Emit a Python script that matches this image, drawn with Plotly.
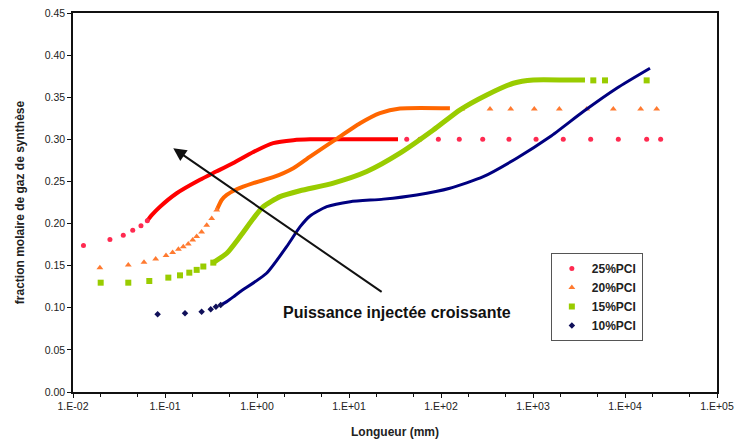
import numpy as np
import plotly.graph_objects as go

# ---- data: mole fraction of syngas vs length (mm), four injected powers ----
# each series: sparse start markers, dense central curve, sparse end markers

# 25 %PCI
p25_start_x = [0.013, 0.0252, 0.0352, 0.0446, 0.0548, 0.0642]
p25_start_y = [0.174, 0.181, 0.186, 0.192, 0.1975, 0.2034]
p25_curve_x = [0.0642, 0.0717, 0.0883, 0.134, 0.240, 0.365, 0.553, 0.912, 1.50, 2.48, 3.77, 10.0, 34.1]
p25_curve_y = [0.2034, 0.210, 0.220, 0.236, 0.252, 0.262, 0.272, 0.285, 0.2955, 0.299, 0.300, 0.300, 0.300]
p25_end_x = [42.4, 59.1, 93.6, 158, 284, 548, 1079, 2133, 4236, 8459, 17200, 24400]
p25_end_y = [0.30] * 12

# 20 %PCI
p20_start_x = [0.0196, 0.0399, 0.0591, 0.0792, 0.1026, 0.121, 0.140, 0.158, 0.179, 0.200,
               0.221, 0.250, 0.284, 0.322, 0.365]
p20_start_y = [0.1476, 0.1508, 0.154, 0.158, 0.162, 0.1655, 0.1694, 0.1726, 0.1758, 0.1805,
               0.1845, 0.190, 0.198, 0.206, 0.216]
p20_curve_x = [0.365, 0.413, 0.469, 0.601, 0.912, 1.50, 2.48, 3.77, 7.05, 13.2, 21.7, 35.8, 125]
p20_curve_y = [0.216, 0.228, 0.234, 0.2407, 0.248, 0.255, 0.2657, 0.2795, 0.2993, 0.319, 0.331, 0.3367, 0.337]
p20_end_x = [168, 341, 572, 1033, 1932, 3836, 7464, 14800, 22100]
p20_end_y = [0.336] * 9

# 15 %PCI
p15_start_x = [0.0200, 0.0399, 0.0675, 0.1087, 0.1456, 0.1837, 0.221, 0.261, 0.335]
p15_start_y = [0.1298, 0.1298, 0.1318, 0.1358, 0.1385, 0.1417, 0.145, 0.149, 0.1536]
p15_curve_x = [0.335, 0.469, 0.654, 0.912, 1.17, 1.78, 2.93, 6.76, 15.6, 35.8, 82.5, 161, 314,
               611, 1007, 2323, 3673]
p15_curve_y = [0.1536, 0.1647, 0.1845, 0.206, 0.220, 0.232, 0.239, 0.248, 0.2617, 0.2835, 0.311,
               0.335, 0.3527, 0.3666, 0.3705, 0.3705, 0.3705]
p15_end_x = [4523, 6064, 17200]
p15_end_y = [0.370] * 3

# 10 %PCI
p10_start_x = [0.0832, 0.165, 0.25, 0.314, 0.358, 0.403]
p10_start_y = [0.0923, 0.0934, 0.0954, 0.0982, 0.1013, 0.1033]
p10_curve_x = [0.403, 0.469, 0.554, 0.654, 1.27, 2.10, 2.93, 3.77, 5.73, 10.3, 23.6, 54.4, 125,
               288, 665, 1531, 3524, 8128, 18700]
p10_curve_y = [0.1033, 0.1073, 0.113, 0.119, 0.141, 0.1726, 0.196, 0.209, 0.220, 0.226, 0.229,
               0.234, 0.242, 0.2557, 0.2776, 0.303, 0.333, 0.3607, 0.3844]
p10_end_x = []
p10_end_y = []

x_tickvals = [1e-2, 1e-1, 1e0, 1e1, 1e2, 1e3, 1e4, 1e5]
x_ticktext = ["1.E-02", "1.E-01", "1.E+00", "1.E+01", "1.E+02", "1.E+03", "1.E+04", "1.E+05"]

series = [
    dict(name="25%PCI", sx=p25_start_x, sy=p25_start_y, cx=p25_curve_x, cy=p25_curve_y,
         ex=p25_end_x, ey=p25_end_y, line="#FF0000", mark="#FF2A50", symbol="circle",
         msize=5, width=4),
    dict(name="20%PCI", sx=p20_start_x, sy=p20_start_y, cx=p20_curve_x, cy=p20_curve_y,
         ex=p20_end_x, ey=p20_end_y, line="#FF6600", mark="#FF7A30", symbol="triangle-up",
         msize=6, width=4),
    dict(name="15%PCI", sx=p15_start_x, sy=p15_start_y, cx=p15_curve_x, cy=p15_curve_y,
         ex=p15_end_x, ey=p15_end_y, line="#99CC00", mark="#99CC00", symbol="square",
         msize=6, width=5),
    dict(name="10%PCI", sx=p10_start_x, sy=p10_start_y, cx=p10_curve_x, cy=p10_curve_y,
         ex=p10_end_x, ey=p10_end_y, line="#000080", mark="#10105A", symbol="diamond",
         msize=5, width=3),
]

fig = go.Figure()
for s in series:
    fig.add_trace(go.Scatter(
        x=s["cx"], y=s["cy"], mode="lines", showlegend=False, hoverinfo="skip",
        line=dict(color=s["line"], width=s["width"], shape="spline", smoothing=0.6),
    ))
    fig.add_trace(go.Scatter(
        x=s["sx"] + s["ex"], y=s["sy"] + s["ey"], mode="markers", name=s["name"],
        marker=dict(color=s["mark"], symbol=s["symbol"], size=s["msize"]),
    ))

# arrow: increasing injected power
fig.add_annotation(
    x=np.log10(0.123), y=0.2894, ax=np.log10(23.5), ay=0.1176,
    xref="x", yref="y", axref="x", ayref="y",
    showarrow=True, arrowhead=2, arrowsize=1.3, arrowwidth=2, arrowcolor="#111111", text="",
)
fig.add_annotation(
    x=np.log10(33.0), y=0.094, xref="x", yref="y", showarrow=False,
    text="<b>Puissance injectée croissante</b>",
    font=dict(family="Liberation Sans, Arial", size=16, color="#111111"),
)

tick_font = dict(family="Liberation Sans, Arial", size=10.5, color="#222222")
title_font = dict(family="Liberation Sans, Arial", size=12, color="#222222", weight="bold")
fig.update_xaxes(
    type="log", range=[-2, 5], tickvals=x_tickvals, ticktext=x_ticktext,
    showline=True, linecolor="#111111", linewidth=1.5, mirror=True,
    ticks="outside", ticklen=4, tickcolor="#111111",
    minor=dict(ticks="outside", ticklen=3, tickcolor="#111111", showgrid=False),
    showgrid=False, zeroline=False, tickfont=tick_font, automargin=False,
    title=dict(text="Longueur (mm)", font=title_font, standoff=16),
)
fig.update_yaxes(
    range=[0, 0.45], dtick=0.05, tickformat=".2f",
    showline=True, linecolor="#111111", linewidth=1.5, mirror=True,
    ticks="outside", ticklen=4, tickcolor="#111111",
    showgrid=False, zeroline=False, tickfont=tick_font, automargin=False,
    title=dict(text="fraction molaire de gaz de synthèse", font=title_font, standoff=18),
)

fig.update_layout(
    width=739, height=443,
    margin=dict(l=73, r=22, t=13, b=51),
    paper_bgcolor="white", plot_bgcolor="white",
    legend=dict(
        x=0.742, y=0.367, xanchor="left", yanchor="top",
        bordercolor="#555555", borderwidth=1, bgcolor="white",
        font=dict(family="Liberation Sans, Arial", size=12, color="#222222", weight="bold"),
        itemwidth=30, tracegroupgap=0,
    ),
)

fig.write_html("out.html")
